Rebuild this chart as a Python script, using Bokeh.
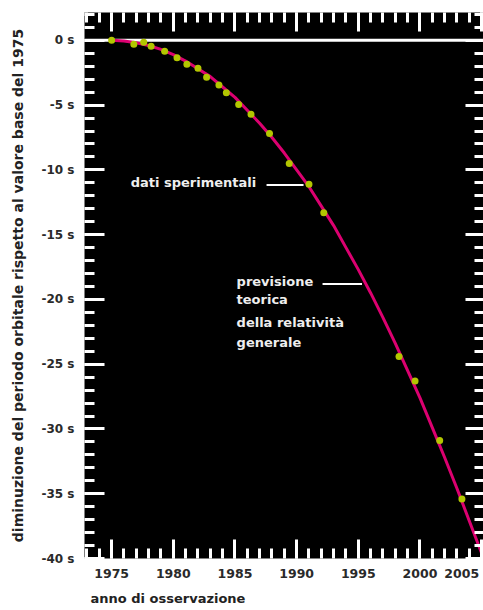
from bokeh.plotting import figure
from bokeh.models import (ColumnDataSource, LinearAxis, SingleIntervalTicker, Span,
                          Label, Title, CustomJSTickFormatter, Range1d)
from bokeh.embed import file_html
from bokeh.resources import INLINE

# ---- data ----
theory_years = [1975, 1976, 1977, 1978, 1979, 1980, 1981, 1982, 1983, 1984, 1985,
                1986, 1987, 1988, 1989, 1990, 1991, 1992, 1993, 1994, 1995, 1996,
                1997, 1998, 1999, 2000, 2001, 2002, 2003, 2004, 2005]
theory_shift = [0.0, -0.05, -0.18, -0.4, -0.7, -1.1, -1.6, -2.2, -2.8, -3.6, -4.4,
                -5.4, -6.4, -7.5, -8.7, -10.0, -11.3, -12.8, -14.3, -16.0, -17.7, -19.5,
                -21.4, -23.4, -25.5, -27.6, -29.9, -32.2, -34.6, -37.1, -39.6]

obs_years = [1975.0, 1976.8, 1977.6, 1978.2, 1979.3, 1980.3, 1981.1, 1982.0, 1982.7,
             1983.7, 1984.3, 1985.3, 1986.3, 1987.8, 1989.4, 1991.0, 1992.2,
             1998.3, 1999.6, 2001.6, 2003.4]
obs_shift = [0.0, -0.3, -0.15, -0.45, -0.85, -1.35, -1.85, -2.15, -2.85,
             -3.45, -4.05, -4.95, -5.7, -7.2, -9.5, -11.1, -13.3,
             -24.4, -26.3, -30.9, -35.4]

y_label = "diminuzione del periodo orbitale rispetto al valore base del 1975"
x_label = "anno di osservazione"
label_data = "dati sperimentali"
label_theory = ["previsione", "teorica", "della relatività", "generale"]

FONT = "DejaVu Sans"

theory_src = ColumnDataSource(dict(x=theory_years, y=theory_shift))
obs_src = ColumnDataSource(dict(x=obs_years, y=obs_shift))

p = figure(width=483, height=610,
           x_range=Range1d(1972.8, 2005.15), y_range=Range1d(-40, 2.15),
           output_backend="svg", toolbar_location=None,
           min_border_left=84, min_border_right=0, min_border_top=12, min_border_bottom=0)
p.background_fill_color = "black"
p.border_fill_color = "white"
p.outline_line_color = None
p.grid.visible = False


def style_axis(ax, interval, major_in, minor_in, size="12px"):
    ax.ticker = SingleIntervalTicker(interval=interval, num_minor_ticks=5)
    ax.axis_line_color = None
    ax.major_tick_line_color = "white"
    ax.minor_tick_line_color = "white"
    ax.major_tick_line_width = 3
    ax.minor_tick_line_width = 3
    ax.major_tick_in = major_in
    ax.major_tick_out = 0
    ax.minor_tick_in = minor_in
    ax.minor_tick_out = 0
    ax.major_label_text_font = FONT
    ax.major_label_text_font_style = "bold"
    ax.major_label_text_font_size = size
    ax.major_label_text_color = "#2a2a2a"


xa = p.xaxis[0]
style_axis(xa, 5, 19, 10, "12.5px")
xa.major_label_standoff = 7
# the last label is padded with a no-break space so that it sits inside the window
xa.formatter = CustomJSTickFormatter(
    code="return tick >= 2005 ? tick.toFixed(0) + '\\u00a0' : tick.toFixed(0);")

ya = p.yaxis[0]
style_axis(ya, 5, 20, 10, "12px")
ya.major_label_standoff = 10
ya.formatter = CustomJSTickFormatter(code="return tick.toFixed(0) + ' s';")
ya.axis_label = y_label
ya.axis_label_standoff = 13
ya.axis_label_text_font = FONT
ya.axis_label_text_font_style = "bold"
ya.axis_label_text_font_size = "14px"
ya.axis_label_text_color = "#222222"

top = LinearAxis()
style_axis(top, 5, 19, 10, "0px")
top.formatter = CustomJSTickFormatter(code="return '';")
top.major_label_standoff = 0
p.add_layout(top, "above")

right = LinearAxis()
style_axis(right, 5, 18, 9, "0px")
right.formatter = CustomJSTickFormatter(code="return '';")
right.major_label_standoff = 0
p.add_layout(right, "right")

p.add_layout(Title(text=x_label, align="left", offset=6, standoff=10,
                   text_font=FONT, text_font_size="13px", text_font_style="bold",
                   text_color="#222222"), "below")

p.add_layout(Span(location=0, dimension="width", line_color="white", line_width=3,
                  level="underlay"))

p.line("x", "y", source=theory_src, line_color="#dc0070", line_width=3)
p.scatter("x", "y", source=obs_src, size=7, fill_color="#b2c600", line_color=None)

# annotations
p.add_layout(Label(x=1976.54, y=-10.94, text=label_data, text_baseline="middle",
                   text_font=FONT, text_font_size="13px", text_font_style="bold",
                   text_color="#eeeeee"))
p.segment(x0=[1987.56, 1992.1], y0=[-11.17, -18.8], x1=[1990.56, 1995.3], y1=[-11.17, -18.8],
          line_color="white", line_width=2)
for txt, yy in zip(label_theory, [-18.59, -19.98, -21.76, -23.30]):
    p.add_layout(Label(x=1985.13, y=yy, text=txt, text_baseline="middle",
                       text_font=FONT, text_font_size="13px", text_font_style="bold",
                       text_color="#eeeeee"))

open("out.html", "w").write(file_html(p, INLINE))
